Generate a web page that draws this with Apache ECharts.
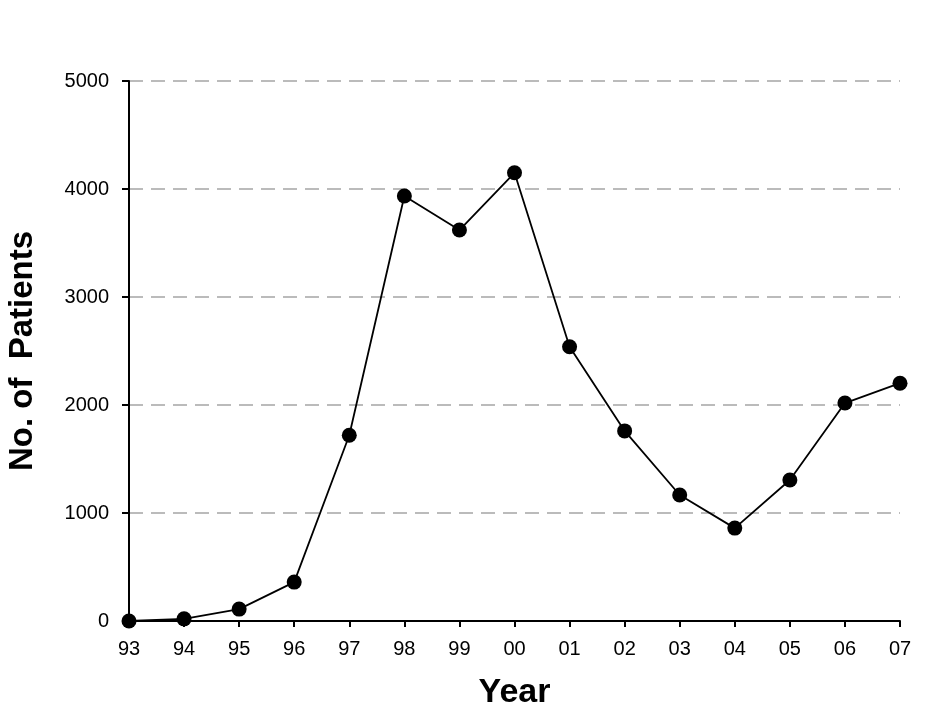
<!DOCTYPE html>
<html><head><meta charset="utf-8">
<script src="https://cdn.jsdelivr.net/npm/echarts@6/dist/echarts.min.js"></script>
<style>html,body{margin:0;padding:0;background:#fff}#c{width:943px;height:715px}</style>
</head><body><div id="c"></div>
<script>
var years = ['93','94','95','96','97','98','99','00','01','02','03','04','05','06','07'];
var patients = [0, 20, 110, 360, 1720, 3935, 3620, 4150, 2540, 1760, 1167, 860, 1306, 2018, 2202];
var yTicks = [0, 1000, 2000, 3000, 4000, 5000];

var chart = echarts.init(document.getElementById('c'));
chart.setOption({
  animation: false,
  backgroundColor: '#fff',
  grid: {left: 129, right: 43, top: 81, bottom: 94, containLabel: false, outerBoundsMode: 'none'},
  xAxis: {
    type: 'category', data: years, boundaryGap: false,
    name: 'Year', nameLocation: 'middle', nameGap: 55,
    nameTextStyle: {fontFamily: 'Liberation Sans', fontSize: 34, fontWeight: 'bold', color: '#000'},
    axisLine: {lineStyle: {color: '#000', width: 2}},
    axisTick: {show: true, length: 6, alignWithLabel: true, lineStyle: {color: '#000', width: 2}},
    axisLabel: {fontFamily: 'Liberation Sans', fontSize: 20, color: '#000', margin: 18},
    splitLine: {show: false}
  },
  yAxis: {
    type: 'value', min: yTicks[0], max: yTicks[yTicks.length-1], interval: 1000,
    name: 'No. of  Patients', nameLocation: 'middle', nameGap: 90,
    nameTextStyle: {fontFamily: 'Liberation Sans', fontSize: 33, fontWeight: 'bold', color: '#000'},
    axisLine: {show: true, lineStyle: {color: '#000', width: 2}},
    axisTick: {show: true, length: 7, lineStyle: {color: '#000', width: 2}},
    axisLabel: {fontFamily: 'Liberation Sans', fontSize: 20, color: '#000', margin: 20,
      formatter: function (v) { return String(v); }},
    splitLine: {show: true, lineStyle: {color: '#bbbbbb', width: 2, type: [14, 8]}}
  },
  series: [{
    type: 'line', data: patients,
    symbol: 'circle', symbolSize: 15,
    itemStyle: {color: '#000'},
    lineStyle: {color: '#000', width: 1.8},
    z: 5
  }]
});
</script></body></html>
